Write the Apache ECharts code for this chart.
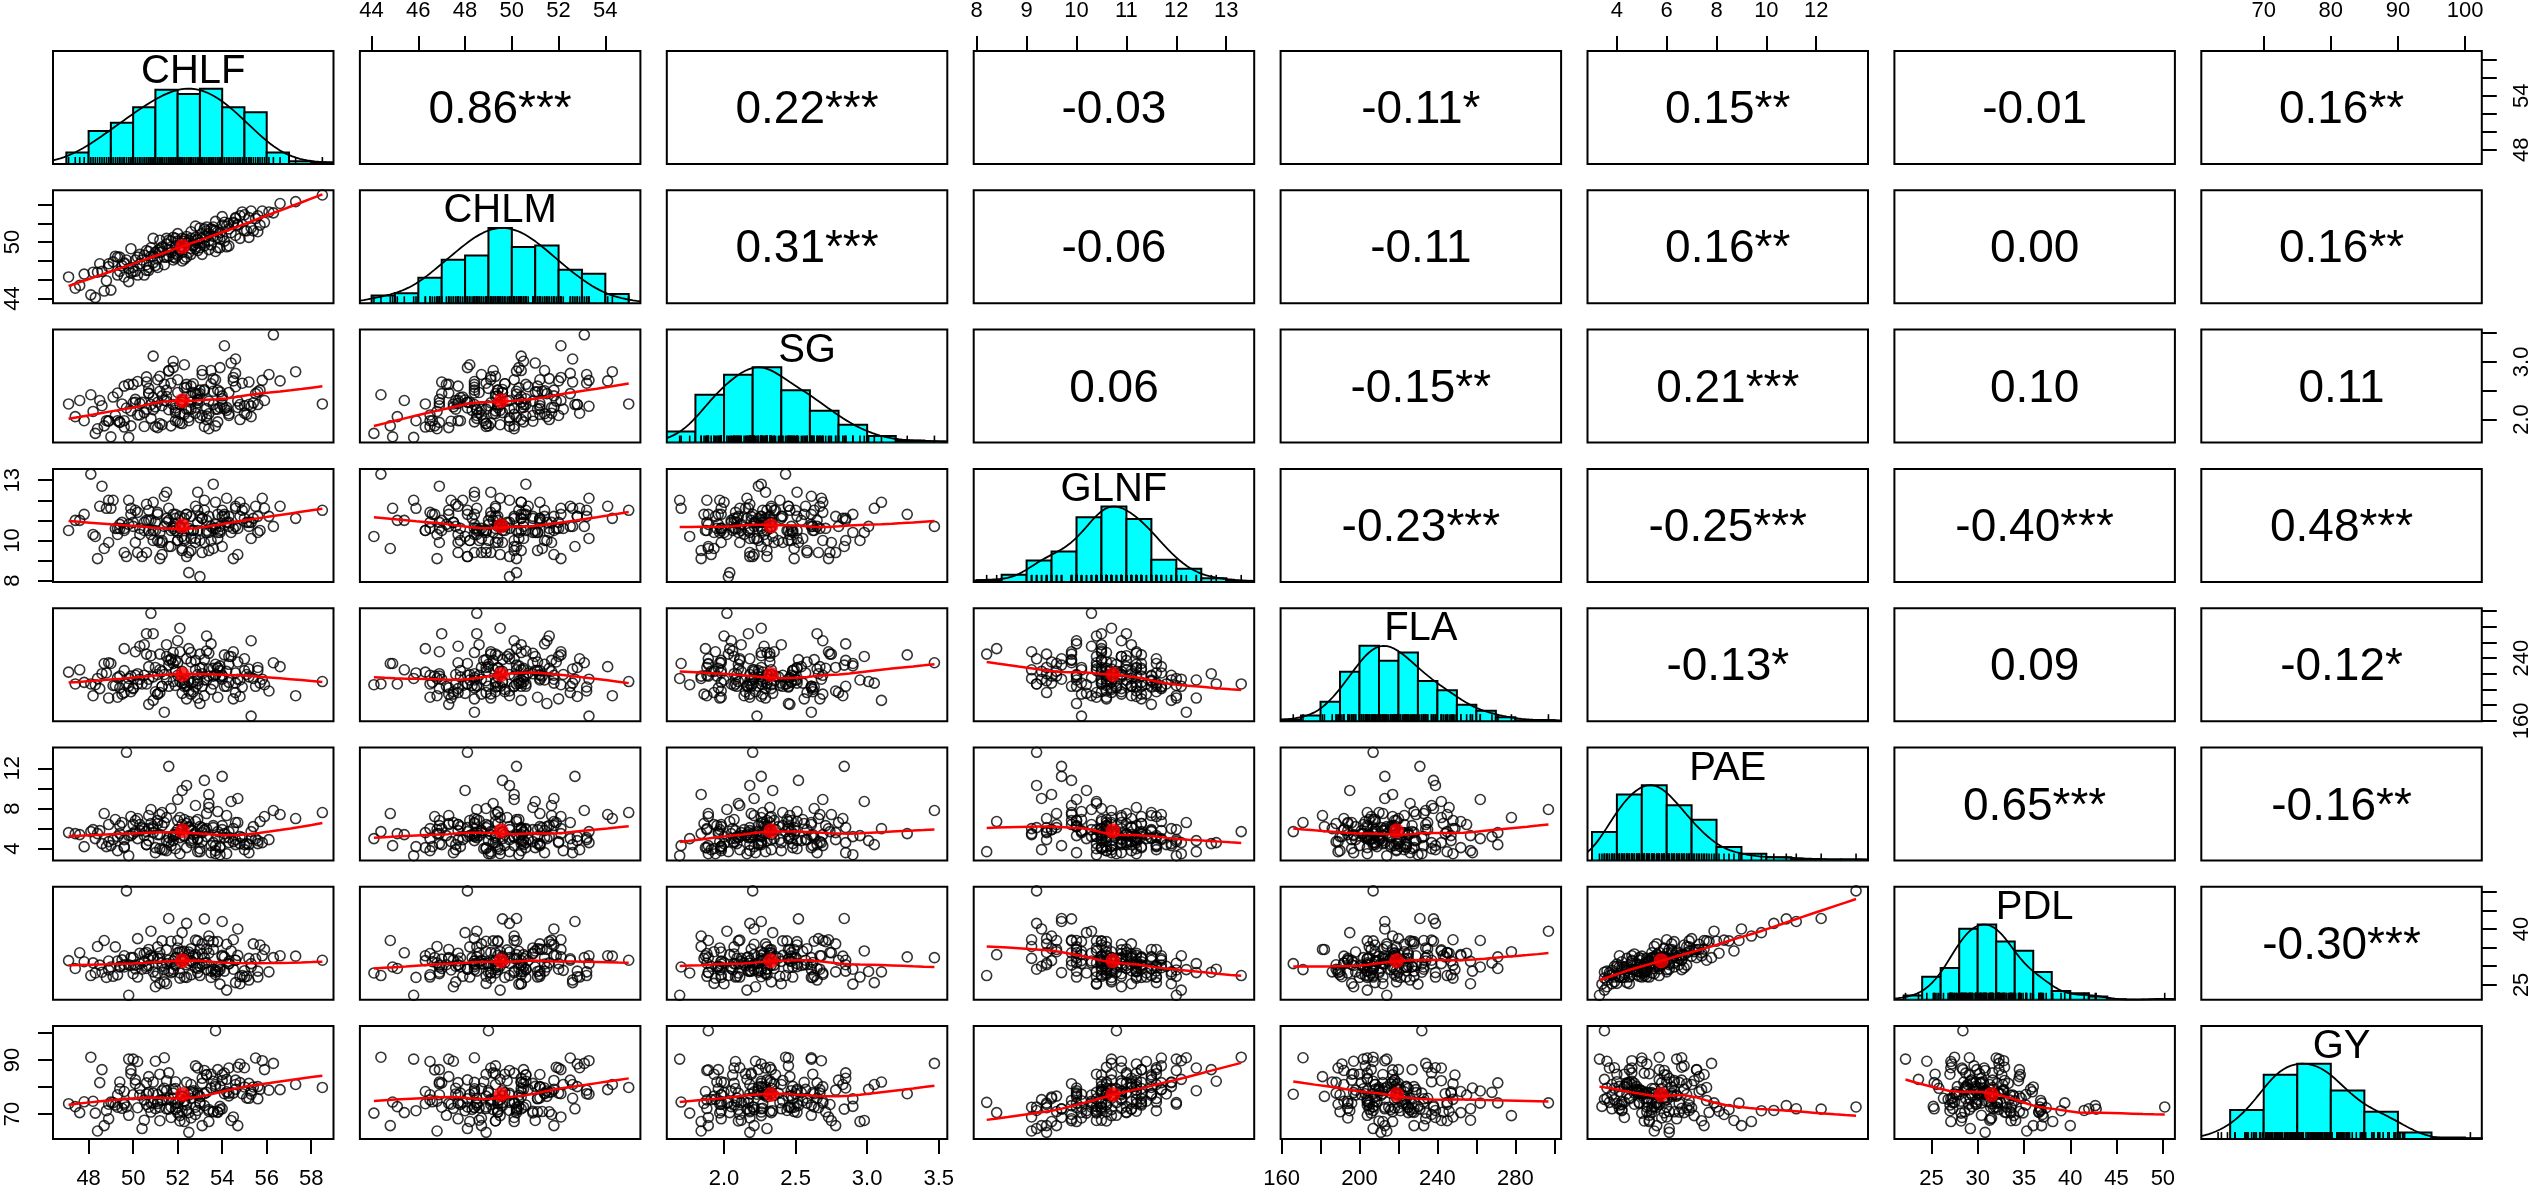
<!DOCTYPE html>
<html>
<head>
<meta charset="utf-8">
<script src="https://cdn.jsdelivr.net/npm/echarts@6/dist/echarts.min.js"></script>
<style>
  html, body { margin: 0; padding: 0; background: #fff; }
  #chart { width: 2535px; height: 1191px; }
</style>
</head>
<body>
<div id="chart"></div>
<script>
// variable names on the diagonal
const names = ['CHLF', 'CHLM', 'SG', 'GLNF', 'FLA', 'PAE', 'PDL', 'GY']

// observations (one value per plant, same order in every array)
const chlf = [
  52.3, 50.1, 54.6, 48.7, 53.2, 51.5, 55.4, 49.6, 52.8, 47.4,
  53.9, 51.1, 50.6, 54.2, 52.1, 48.3, 55.8, 53.4, 50.9, 51.8,
  49.2, 53.7, 52.6, 56.3, 51.3, 54.9, 50.3, 48.9, 53.1, 52.4,
  55.1, 50.7, 51.9, 53.6, 49.8, 54.4, 52.2, 47.8, 51.4, 53.3,
  50.2, 55.6, 52.9, 49.4, 54.1, 51.2, 53.8, 48.5, 52.5, 55.2,
  51.6, 53.5, 50.5, 54.7, 49.1, 52.7, 56.6, 51.0, 53.0, 48.1,
  54.3, 52.0, 49.9, 53.9, 50.8, 55.5, 51.7, 52.4, 47.1, 54.0,
  50.4, 53.1, 51.8, 55.9, 49.3, 52.6, 54.8, 50.0, 53.4, 51.2,
  48.8, 52.9, 55.3, 51.5, 53.7, 58.5, 54.5, 52.1, 50.6, 49.7,
  53.2, 51.9, 49.5, 54.2, 52.3, 55.0, 50.9, 53.6, 48.4, 52.0,
  51.3, 54.6, 50.2, 53.0, 57.3, 52.8, 49.0, 55.7, 51.6, 53.8,
  50.7, 52.5, 54.0, 49.6, 53.3, 51.1, 55.2, 52.2, 48.6, 54.3,
  51.9, 53.5, 50.8, 52.7, 49.9, 54.5, 52.0, 51.4, 53.1, 50.5,
  52.6, 48.9, 54.8, 51.7, 53.9, 50.1, 52.3, 55.3, 51.0, 53.6,
  49.4, 52.9, 51.2, 54.1, 50.6, 53.3, 52.2, 47.6, 51.8, 54.7,
  53.0, 50.3, 52.5, 55.6, 51.5, 49.8, 53.7, 52.8, 50.9, 56.1,
  51.1, 54.3, 52.4, 48.2, 53.4, 51.6, 50.0, 54.0, 52.1, 49.3,
  55.0, 51.3, 53.8, 50.7, 52.6, 51.9, 54.6, 49.6, 53.2, 52.9
]
const chlm = [
  50.1, 46.9, 52.6, 44.8, 49.9, 50.4, 51.2, 47.7, 51.7, 45.1,
  51.0, 47.3, 49.1, 49.5, 49.5, 44.1, 53.3, 50.1, 50.4, 48.4,
  48.5, 51.2, 48.7, 53.1, 49.5, 53.2, 47.7, 47.4, 48.7, 49.9,
  51.2, 47.3, 50.4, 51.3, 45.8, 51.0, 50.4, 46.6, 48.4, 51.6,
  48.4, 52.8, 49.1, 46.9, 52.1, 48.9, 49.4, 47.7, 50.2, 50.5,
  48.5, 51.4, 46.5, 51.8, 47.9, 49.7, 54.1, 48.9, 51.5, 44.4,
  52.0, 48.6, 49.3, 50.3, 48.5, 52.5, 50.1, 48.4, 46.3, 52.7,
  48.1, 50.9, 48.1, 52.1, 46.5, 51.1, 50.4, 47.3, 50.9, 50.2,
  45.9, 50.2, 53.3, 48.4, 49.0, 55.0, 52.1, 49.3, 47.0, 48.1,
  51.4, 48.8, 47.5, 51.7, 48.2, 52.9, 47.8, 50.6, 46.8, 50.1,
  49.0, 50.7, 46.5, 49.9, 54.3, 50.5, 44.9, 51.8, 50.2, 51.1,
  49.0, 48.9, 50.6, 46.3, 51.2, 49.1, 52.6, 48.9, 46.9, 49.6,
  49.6, 49.7, 49.4, 49.6, 46.7, 52.0, 50.9, 47.6, 50.4, 48.6,
  49.3, 47.7, 52.8, 48.9, 49.4, 48.1, 50.3, 51.5, 47.5, 51.6,
  48.4, 49.9, 49.3, 50.1, 47.6, 50.6, 48.0, 45.4, 50.5, 51.9,
  49.4, 48.7, 49.9, 51.1, 49.8, 47.2, 52.2, 49.3, 48.5, 53.2,
  48.2, 51.4, 50.6, 46.8, 49.2, 49.2, 46.9, 51.8, 49.1, 48.4,
  51.2, 49.4, 50.5, 47.0, 50.4, 48.3, 52.5, 47.8, 49.6, 50.3
]
const sg = [
  2.09, 2.35, 3.05, 1.89, 1.88, 2.40, 2.29, 2.58, 2.11, 2.05,
  2.48, 1.86, 2.74, 2.16, 2.26, 1.76, 2.68, 1.84, 3.10, 2.26,
  2.07, 2.69, 2.18, 3.47, 1.91, 2.63, 2.28, 1.97, 2.78, 2.18,
  2.09, 2.46, 2.20, 2.49, 1.69, 2.98, 2.30, 1.98, 2.61, 2.00,
  2.66, 2.26, 2.29, 1.95, 3.28, 1.93, 2.51, 2.33, 2.04, 2.26,
  2.17, 2.85, 1.88, 2.21, 2.39, 2.62, 2.67, 1.88, 2.45, 2.43,
  2.07, 2.47, 2.15, 2.90, 2.02, 2.45, 1.89, 2.56, 2.27, 2.26,
  2.30, 2.07, 2.90, 2.33, 1.98, 2.58, 2.00, 2.61, 2.32, 2.49,
  1.98, 2.44, 2.23, 2.51, 1.89, 2.27, 2.73, 2.10, 2.65, 2.20,
  2.50, 1.98, 2.27, 2.21, 2.95, 2.11, 2.38, 2.26, 1.84, 2.69,
  2.24, 2.57, 2.08, 2.03, 2.83, 2.21, 1.70, 2.51, 2.84, 2.18,
  2.54, 2.18, 2.36, 1.87, 2.19, 2.69, 2.65, 1.93, 2.24, 2.47,
  2.12, 2.62, 2.26, 2.47, 1.89, 2.67, 1.97, 2.33, 2.85, 2.12,
  2.40, 1.98, 2.26, 2.63, 2.21, 2.30, 2.55, 2.05, 2.22, 2.71,
  1.96, 2.33, 2.75, 2.19, 2.18, 2.06, 2.34, 2.33, 3.01, 2.32,
  2.51, 2.08, 1.98, 2.48, 2.32, 2.61, 2.18, 2.45, 2.17, 2.78,
  2.30, 2.10, 2.61, 2.14, 2.10, 2.85, 2.29, 2.41, 1.94, 2.46,
  2.24, 2.41, 1.96, 2.45, 2.30, 2.16, 2.80, 1.98, 2.52, 2.35
]
const glnf = [
  11.1, 9.9, 11.6, 9.6, 12.0, 11.1, 11.1, 9.4, 9.9, 11.0,
  10.5, 11.3, 9.4, 12.1, 10.7, 10.2, 12.1, 9.5, 11.9, 10.6,
  10.6, 11.9, 10.1, 10.7, 9.3, 11.5, 10.3, 12.0, 9.4, 9.2,
  10.9, 11.5, 11.3, 9.6, 12.0, 10.4, 9.5, 11.3, 12.2, 10.4,
  9.4, 11.2, 12.4, 10.6, 11.3, 10.4, 10.1, 11.7, 8.4, 10.9,
  11.6, 10.0, 10.9, 9.3, 12.0, 10.5, 11.7, 10.5, 10.0, 13.3,
  10.9, 10.0, 11.6, 10.4, 10.3, 11.7, 9.7, 11.3, 10.5, 9.7,
  9.2, 11.1, 11.3, 11.6, 10.6, 9.5, 11.9, 10.7, 11.2, 9.1,
  11.6, 10.5, 10.1, 12.4, 10.8, 11.5, 9.1, 10.6, 11.0, 9.2,
  11.5, 10.5, 10.9, 10.9, 10.0, 11.6, 10.0, 12.8, 9.1, 10.0,
  10.0, 11.7, 11.4, 8.2, 11.1, 10.1, 11.6, 10.5, 9.7, 10.4,
  11.0, 9.4, 11.5, 10.5, 11.0, 11.4, 10.7, 9.6, 12.7, 10.7,
  10.8, 10.7, 11.0, 10.5, 11.3, 10.6, 10.4, 10.7, 11.1, 10.5,
  11.2, 9.9, 11.2, 10.5, 10.7, 11.5, 10.1, 10.9, 10.9, 10.6,
  10.8, 10.9, 9.9, 11.2, 11.8, 10.5, 10.2, 11.0, 10.7, 10.6,
  11.2, 10.6, 10.6, 10.4, 10.9, 10.8, 10.6, 11.7, 10.5, 11.2,
  10.0, 11.2, 11.3, 10.3, 10.4, 11.0, 10.9, 11.2, 11.2, 10.3,
  11.1, 9.9, 11.3, 10.5, 10.5, 11.1, 10.7, 10.6, 9.9, 11.5
]
const fla = [
  204, 248, 208, 233, 192, 257, 214, 196, 237, 207,
  224, 194, 245, 204, 278, 206, 213, 217, 186, 247,
  205, 218, 194, 234, 223, 203, 255, 189, 228, 239,
  219, 181, 225, 217, 214, 242, 208, 209, 171, 268,
  220, 228, 189, 217, 244, 196, 228, 201, 252, 216,
  204, 258, 218, 213, 205, 197, 229, 228, 182, 207,
  242, 218, 197, 230, 297, 204, 239, 188, 222, 213,
  207, 220, 233, 206, 190, 235, 212, 202, 246, 225,
  221, 207, 166, 212, 232, 210, 248, 210, 271, 207,
  212, 237, 194, 223, 212, 239, 216, 207, 214, 262,
  204, 221, 207, 245, 192, 225, 233, 208, 231, 190,
  229, 211, 217, 252, 212, 194, 226, 223, 220, 209,
  223, 200, 243, 210, 217, 188, 234, 219, 204, 257,
  208, 234, 191, 238, 216, 218, 208, 262, 197, 227,
  202, 219, 245, 204, 207, 249, 195, 225, 210, 235,
  227, 213, 198, 224, 242, 204, 219, 203, 271, 198,
  219, 232, 204, 192, 226, 237, 201, 218, 248, 215,
  224, 204, 227, 213, 247, 205, 196, 224, 238, 211
]
const pae = [
  5.2, 6.8, 4.4, 7.5, 5.9, 3.8, 6.2, 4.9, 8.3, 5.5,
  4.1, 6.5, 5.7, 3.5, 7.1, 5.0, 4.6, 9.4, 6.0, 5.3,
  6.9, 4.3, 5.8, 7.8, 3.9, 5.1, 6.4, 4.7, 5.6, 10.3,
  4.5, 7.3, 5.4, 6.1, 3.3, 8.7, 5.9, 4.2, 6.6, 5.2,
  7.0, 4.8, 3.7, 6.3, 5.5, 4.0, 7.7, 5.8, 6.7, 4.4,
  5.1, 3.6, 6.0, 9.0, 4.9, 5.4, 7.4, 4.1, 6.2, 5.7,
  4.6, 6.8, 5.3, 3.4, 7.9, 5.0, 4.3, 6.5, 5.6, 11.2,
  6.1, 4.7, 5.2, 7.2, 3.8, 5.9, 4.5, 6.4, 8.1, 5.4,
  4.2, 6.9, 5.7, 4.8, 3.5, 7.6, 6.0, 5.1, 4.4, 13.6,
  5.8, 4.0, 6.6, 7.3, 5.3, 3.9, 6.2, 4.6, 5.5, 8.9,
  6.3, 4.9, 5.0, 3.7, 7.0, 5.6, 4.3, 6.7, 12.2, 5.2,
  4.8, 6.1, 5.9, 4.1, 7.5, 5.4, 3.6, 6.4, 4.5, 5.7,
  5.6, 4.3, 6.5, 5.0, 7.2, 4.7, 5.9, 3.9, 6.1, 5.3,
  4.6, 6.4, 5.2, 8.0, 4.2, 5.7, 6.9, 5.0, 3.6, 6.3,
  5.5, 4.9, 7.4, 5.1, 4.4, 6.0, 9.8, 5.4, 4.8, 6.6,
  4.0, 5.8, 6.2, 4.5, 7.1, 5.3, 3.8, 6.7, 5.6, 4.9,
  6.8, 5.1, 4.1, 5.9, 8.5, 4.6, 5.5, 6.3, 3.5, 5.2,
  4.4, 7.6, 5.7, 6.0, 4.8, 5.4, 6.6, 4.2, 10.8, 5.0
]
const pdl = [
  32.1, 30.3, 25.6, 36.9, 30.8, 25.3, 36.0, 30.4, 37.0, 29.4,
  29.8, 32.1, 33.7, 23.6, 33.9, 28.2, 32.8, 38.1, 28.5, 31.4,
  35.2, 27.8, 31.5, 32.3, 30.0, 27.5, 33.5, 29.0, 36.0, 41.5,
  27.3, 34.5, 30.2, 34.5, 22.2, 34.1, 31.5, 31.2, 29.1, 30.9,
  37.4, 28.7, 28.3, 29.8, 32.5, 25.4, 36.6, 30.3, 33.1, 32.1,
  28.7, 28.7, 33.4, 40.0, 27.3, 31.0, 32.8, 27.3, 34.5, 27.5,
  30.7, 33.6, 30.2, 25.2, 39.4, 32.0, 28.3, 30.4, 31.5, 42.0,
  29.2, 33.3, 29.2, 34.5, 27.7, 34.7, 25.3, 32.3, 33.5, 32.1,
  27.0, 36.8, 30.7, 30.7, 28.4, 31.6, 37.1, 28.2, 29.4, 50.2,
  32.3, 30.6, 31.7, 35.9, 27.1, 27.1, 32.2, 29.2, 35.3, 36.9,
  30.9, 31.6, 27.1, 27.5, 32.7, 33.1, 29.8, 35.7, 42.8, 28.6,
  30.2, 30.8, 32.6, 32.8, 34.6, 28.2, 26.3, 33.9, 28.4, 31.3,
  32.1, 27.0, 32.9, 32.7, 32.3, 29.2, 34.9, 25.8, 30.4, 31.3,
  31.3, 31.4, 27.2, 36.7, 29.1, 29.3, 34.0, 29.8, 24.5, 36.6,
  29.9, 32.3, 33.6, 28.7, 30.0, 29.1, 39.0, 33.6, 28.6, 32.9,
  29.9, 30.6, 33.8, 27.1, 34.4, 30.4, 28.9, 29.6, 32.5, 28.5,
  35.2, 30.6, 27.0, 30.9, 36.8, 31.6, 28.0, 32.9, 26.8, 31.4,
  28.8, 36.8, 29.9, 31.9, 27.7, 32.3, 31.6, 29.8, 42.7, 29.4
]
const gy = [
  74.5, 81.2, 80.9, 65.7, 86.1, 71.9, 80.0, 74.0, 69.8, 72.7,
  80.2, 73.9, 73.5, 82.8, 69.4, 70.3, 89.7, 67.2, 81.8, 77.7,
  73.3, 80.1, 68.5, 88.7, 75.3, 77.5, 77.0, 73.6, 65.7, 71.3,
  75.9, 83.8, 79.4, 70.9, 90.3, 67.6, 76.3, 74.5, 90.8, 78.0,
  72.3, 80.1, 87.0, 81.8, 77.5, 84.7, 70.6, 81.6, 70.5, 81.3,
  75.7, 79.6, 75.2, 65.7, 74.2, 77.9, 79.0, 72.0, 76.5, 91.0,
  87.0, 72.3, 84.9, 72.8, 74.1, 90.7, 68.7, 81.7, 73.8, 71.9,
  64.6, 81.3, 75.6, 86.4, 77.1, 75.8, 81.6, 90.3, 71.0, 72.5,
  71.2, 71.3, 77.3, 78.6, 100.8, 79.8, 68.9, 67.4, 81.5, 72.6,
  77.5, 81.9, 72.1, 78.2, 67.2, 87.1, 77.7, 82.1, 63.7, 74.0,
  78.6, 79.1, 89.4, 74.3, 80.9, 72.5, 74.4, 79.1, 71.8, 70.8,
  77.9, 63.2, 84.5, 78.3, 84.6, 74.7, 75.8, 76.6, 86.4, 76.7,
  74.2, 84.7, 70.7, 78.6, 86.3, 77.7, 70.4, 79.5, 83.2, 67.7,
  80.9, 68.2, 88.5, 72.6, 71.6, 82.6, 74.9, 78.5, 89.5, 70.8,
  79.3, 77.6, 67.5, 85.1, 77.4, 84.4, 71.2, 70.5, 79.1, 87.3,
  73.8, 79.4, 77.0, 75.6, 82.3, 69.5, 80.9, 87.8, 74.1, 78.8,
  77.2, 77.7, 73.3, 74.7, 71.6, 85.2, 77.1, 82.4, 75.4, 72.5,
  80.0, 75.0, 86.4, 72.5, 78.2, 71.7, 82.5, 73.5, 73.1, 76.9
]

// histogram bars (first break, bin width, bar heights)
const histStart = [47, 44, 1.6, 8.0, 160, 3, 22, 65]
const histWidth = [1, 1, 0.2, 0.5, 10, 1, 2, 5]
const histChlf = [35, 100, 125, 172, 225, 212, 228, 172, 157, 35, 8, 5]
const histChlm = [23, 30, 76, 130, 143, 225, 168, 173, 100, 88, 28]
const histSg = [33, 143, 203, 225, 156, 95, 53, 20, 6, 3]
const histGlnf = [5, 20, 60, 85, 180, 210, 175, 62, 37, 10, 3]
const histFla = [5, 17, 59, 150, 229, 184, 209, 122, 94, 50, 32, 12, 3, 3]
const histPae = [85, 197, 225, 165, 122, 40, 20, 10, 4, 3, 3]
const histPdl = [13, 70, 97, 217, 230, 178, 150, 85, 27, 20, 10, 2, 0, 0, 2]
const histGy = [87, 192, 225, 145, 82, 20, 5, 2]

// correlation text in the upper panels, row by row
const corrLabels = [
  ['0.86***', '0.22***', '-0.03', '-0.11*', '0.15**', '-0.01', '0.16**'],
  ['0.31***', '-0.06', '-0.11', '0.16**', '0.00', '0.16**'],
  ['0.06', '-0.15**', '0.21***', '0.10', '0.11'],
  ['-0.23***', '-0.25***', '-0.40***', '0.48***'],
  ['-0.13*', '0.09', '-0.12*'],
  ['0.65***', '-0.16**'],
  ['-0.30***']
]

// axis ranges and ticks
const ranges = [[46.4, 59.0], [43.5, 55.5], [1.6, 3.56], [7.94, 13.56], [159.5, 303.5], [2.82, 14.08], [21.0, 51.3], [60.7, 102.5]]
const tickVals = [
  [48, 50, 52, 54, 56, 58], [44, 46, 48, 50, 52, 54], [2, 2.5, 3, 3.5], [8, 9, 10, 11, 12, 13],
  [160, 180, 200, 220, 240, 260, 280, 300], [4, 6, 8, 10, 12], [25, 30, 35, 40, 45, 50], [70, 80, 90, 100]
]
const xLabelVals = [
  [48, 50, 52, 54, 56, 58], [44, 46, 48, 50, 52, 54], [2, 2.5, 3, 3.5], [8, 9, 10, 11, 12, 13],
  [160, 200, 240, 280], [4, 6, 8, 10, 12], [25, 30, 35, 40, 45, 50], [70, 80, 90, 100]
]
const yLabelVals = [[48, 54], [44, 50], [2, 3], [8, 10, 13], [160, 240], [4, 8, 12], [25, 40], [70, 90]]
const labelDigits = [0, 0, 1, 0, 0, 0, 0, 0]

const vars = [chlf, chlm, sg, glnf, fla, pae, pdl, gy]
const hists = [histChlf, histChlm, histSg, histGlnf, histFla, histPae, histPdl, histGy]

const FONT = '"Liberation Sans", Arial, sans-serif'
const LEFT = 53, COLSTEP = 306.9, PW = 280.5
const TOP = 51, ROWSTEP = 139.3, PH = 113

function mean(a) { return a.reduce((s, v) => s + v, 0) / a.length }
function median(a) { const s = [...a].sort((p, q) => p - q), m = s.length >> 1; return s.length % 2 ? s[m] : (s[m - 1] + s[m]) / 2 }

// one local linear fit at x0 (tricube * robustness weights)
function localFit(xs, ys, rw, x0, q) {
  const n = xs.length
  const d = xs.map(x => Math.abs(x - x0))
  const h = Math.max([...d].sort((a, b) => a - b)[q - 1], 1e-9)
  let sw = 0, sx = 0, sy = 0, sxx = 0, sxy = 0
  for (let i = 0; i < n; i++) {
    const u = d[i] / h
    if (u >= 1) continue
    const w = rw[i] * Math.pow(1 - u * u * u, 3)
    sw += w; sx += w * xs[i]; sy += w * ys[i]; sxx += w * xs[i] * xs[i]; sxy += w * xs[i] * ys[i]
  }
  if (sw <= 0) return mean(ys)
  const mx = sx / sw, my = sy / sw, vx = sxx / sw - mx * mx
  const b = vx > 1e-12 ? (sxy / sw - mx * my) / vx : 0
  return my + b * (x0 - mx)
}

// robust lowess, f = 2/3, 3 iterations
function smooth(xs, ys) {
  const n = xs.length, q = Math.floor(n * 2 / 3)
  let rw = new Array(n).fill(1)
  for (let it = 0; it < 3; it++) {
    const res = xs.map((x, i) => ys[i] - localFit(xs, ys, rw, x, q))
    const s = median(res.map(Math.abs)) || 1e-9
    rw = res.map(e => { const u = e / (6 * s); return Math.abs(u) < 1 ? (1 - u * u) * (1 - u * u) : 0 })
  }
  const lo = Math.min(...xs), hi = Math.max(...xs)
  const out = []
  for (let k = 0; k <= 24; k++) {
    const x0 = lo + (hi - lo) * k / 24
    out.push([x0, localFit(xs, ys, rw, x0, q)])
  }
  return out
}

// kernel density scaled so its peak sits at 1 (same as tallest bar)
function density(v, rg) {
  const n = v.length, m = mean(v)
  const sd = Math.sqrt(v.reduce((s, x) => s + (x - m) * (x - m), 0) / (n - 1))
  const s = [...v].sort((a, b) => a - b)
  const qt = p => { const h = (n - 1) * p, l = Math.floor(h); return s[l] + (h - l) * (s[Math.min(l + 1, n - 1)] - s[l]) }
  const bw = 1.2 * 1.06 * Math.min(sd, (qt(0.75) - qt(0.25)) / 1.34) * Math.pow(n, -0.2)
  const pts = []
  let top = 0
  for (let i = 0; i <= 150; i++) {
    const x = rg[0] + (rg[1] - rg[0]) * i / 150
    let d = 0
    for (const xi of v) { const u = (x - xi) / bw; d += Math.exp(-0.5 * u * u) }
    pts.push([x, d])
    if (d > top) top = d
  }
  return pts.map(p => [p[0], p[1] / top])
}

function axis(k, v, pos, show, vertical) {
  return {
    type: 'value', gridIndex: k, position: pos,
    min: ranges[v][0], max: ranges[v][1],
    axisLine: { show: false },
    splitLine: { show: false },
    axisTick: { show: show, inside: false, length: 15, lineStyle: { color: '#000', width: 2 }, customValues: tickVals[v] },
    axisLabel: {
      show: show, customValues: vertical ? yLabelVals[v] : xLabelVals[v],
      margin: 29, rotate: vertical ? 90 : 0, color: '#000', fontSize: 22, fontFamily: FONT,
      formatter: val => (+val).toFixed(labelDigits[v])
    }
  }
}

const grids = [], xAxes = [], yAxes = [], series = [], graphics = []

for (let r = 0; r < 8; r++) {
  for (let c = 0; c < 8; c++) {
    const k = r * 8 + c
    const x0 = LEFT + c * COLSTEP, y0 = TOP + r * ROWSTEP
    grids.push({
      left: x0, top: y0, width: PW, height: PH, show: true,
      borderColor: '#000', borderWidth: 2, backgroundColor: 'rgba(0,0,0,0)',
      containLabel: false, outerBoundsMode: 'none'
    })
    const topAx = r === 0 && c % 2 === 1
    const botAx = r === 7 && c % 2 === 0
    const leftAx = c === 0 && r % 2 === 1
    const rightAx = c === 7 && r % 2 === 0
    xAxes.push(axis(k, c, topAx ? 'top' : 'bottom', topAx || botAx, false))

    if (r === c) {
      yAxes.push({ type: 'value', gridIndex: k, min: 0, max: 1.5, show: false })
      const counts = hists[r]
      const top = Math.max(...counts)
      series.push({
        type: 'custom', xAxisIndex: k, yAxisIndex: k, silent: true, clip: true, z: 2,
        encode: { x: [0, 1], y: 2 },
        data: counts.map((n, b) => [histStart[r] + b * histWidth[r], histStart[r] + (b + 1) * histWidth[r], n / top]),
        renderItem: (params, api) => {
          const p0 = api.coord([api.value(0), 0])
          const p1 = api.coord([api.value(1), api.value(2)])
          return {
            type: 'rect',
            shape: { x: p0[0], y: p1[1], width: p1[0] - p0[0], height: p0[1] - p1[1] },
            style: { fill: '#00FFFF', stroke: '#000', lineWidth: 2 }
          }
        }
      })
      series.push({
        type: 'line', xAxisIndex: k, yAxisIndex: k, silent: true, z: 3,
        data: density(vars[r], ranges[r]), showSymbol: false,
        lineStyle: { color: '#000', width: 1.8 }
      })
      // rug
      series.push({
        type: 'custom', xAxisIndex: k, yAxisIndex: k, silent: true, z: 4,
        data: vars[r].map(v => [v, 0]),
        renderItem: (params, api) => {
          const p = api.coord([api.value(0), 0])
          return { type: 'line', shape: { x1: p[0], y1: p[1], x2: p[0], y2: p[1] - 7 }, style: { stroke: '#000', lineWidth: 1.6 } }
        }
      })
      graphics.push({
        type: 'text', x: x0 + PW / 2, y: y0 + 21, z: 100,
        style: { text: names[r], fontSize: 40, fontFamily: FONT, fill: '#000', align: 'center', verticalAlign: 'middle' }
      })
    } else {
      yAxes.push(axis(k, r, rightAx ? 'right' : 'left', leftAx || rightAx, true))
      if (r > c) {
        const xs = vars[c], ys = vars[r]
        series.push({
          type: 'scatter', xAxisIndex: k, yAxisIndex: k, silent: true, z: 2,
          data: xs.map((xv, i) => [xv, ys[i]]),
          symbol: 'circle', symbolSize: 10,
          itemStyle: { color: 'rgba(0,0,0,0)', borderColor: '#000', borderWidth: 1.6 }
        })
        series.push({
          type: 'line', xAxisIndex: k, yAxisIndex: k, silent: true, z: 3,
          data: smooth(xs, ys), showSymbol: false,
          lineStyle: { color: '#ff0000', width: 2.5 }
        })
        series.push({
          type: 'scatter', xAxisIndex: k, yAxisIndex: k, silent: true, z: 4,
          data: [[mean(xs), mean(ys)]], symbolSize: 15,
          itemStyle: { color: '#ff0000' }
        })
      } else {
        graphics.push({
          type: 'text', x: x0 + PW / 2, y: y0 + PH / 2 + 3, z: 100,
          style: { text: corrLabels[r][c - r - 1], fontSize: 46, fontFamily: FONT, fill: '#000', align: 'center', verticalAlign: 'middle' }
        })
      }
    }
  }
}

const chart = echarts.init(document.getElementById('chart'))
chart.setOption({
  animation: false,
  backgroundColor: '#fff',
  grid: grids,
  xAxis: xAxes,
  yAxis: yAxes,
  series: series,
  graphic: graphics
})
</script>
</body>
</html>
